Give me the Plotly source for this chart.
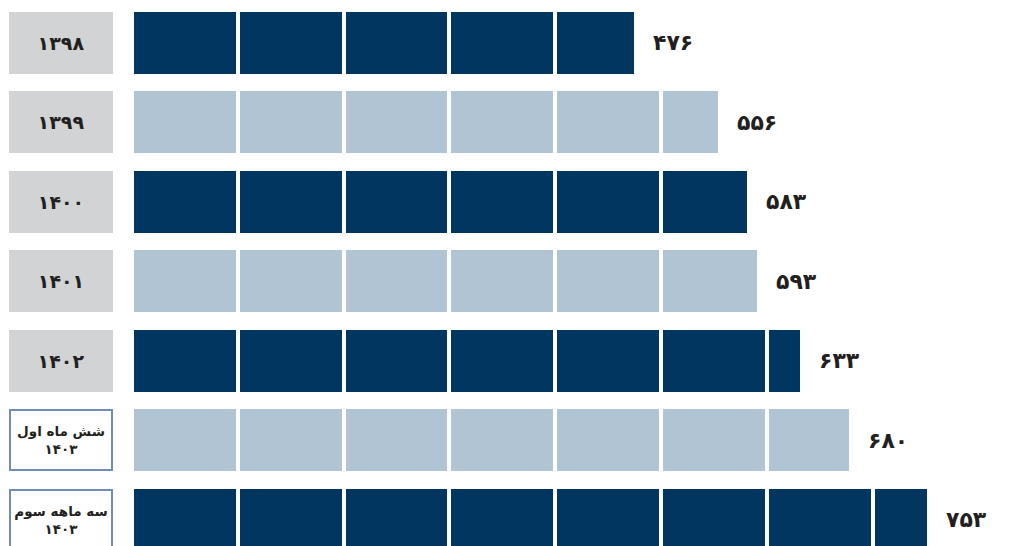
import plotly.graph_objects as go

categories = ["۱۳۹۸", "۱۳۹۹", "۱۴۰۰", "۱۴۰۱", "۱۴۰۲", "شش ماه اول<br>۱۴۰۳", "سه ماهه سوم<br>۱۴۰۳"]
values = [476, 556, 583, 593, 633, 680, 753]
segment_size = 100

DARK = "#00365F"
LIGHT = "#B1C4D3"
GRAY = "#D1D3D4"
BORDER = "#6F8DB8"
TEXT = "#231F20"

def fa_digits(n):
    return str(n).translate(str.maketrans("0123456789", "۰۱۲۳۴۵۶۷۸۹"))

rows = list(range(len(values)))
bar_colors = [DARK if i % 2 == 0 else LIGHT for i in rows]
n_seg = max(values) // segment_size + 1

fig = go.Figure()
for k in range(n_seg):
    seg = []
    for v in values:
        rem = v - k * segment_size
        seg.append(min(segment_size, rem) if rem > 0 else None)
    fig.add_trace(go.Bar(
        y=rows, x=seg, orientation="h", width=0.83,
        marker=dict(color=bar_colors, line=dict(color="white", width=4)),
        hoverinfo="skip", showlegend=False,
    ))

for i, v in enumerate(values):
    fig.add_annotation(x=v, y=i, xref="x", yref="y", text="<b>" + fa_digits(v) + "</b>",
                       showarrow=False, xanchor="left", xshift=15,
                       font=dict(family="DejaVu Sans", size=22, color=TEXT))

for i, c in enumerate(categories):
    boxed = i >= 5
    fig.add_annotation(
        x=0.0524, y=i, xref="paper", yref="y", text="<b>" + c.replace("<br>", "</b><br><b>") + "</b>",
        showarrow=False, xanchor="center", yanchor="middle",
        width=100 if boxed else 104, height=58 if boxed else 62,
        bgcolor="white" if boxed else GRAY,
        bordercolor=BORDER if boxed else GRAY, borderwidth=2 if boxed else 0, borderpad=0,
        font=dict(family="DejaVu Sans", size=13.5 if boxed else 19, color=TEXT),
        align="center",
    )

fig.update_layout(
    barmode="stack", bargap=0,
    width=1011, height=546,
    margin=dict(l=0, r=0, t=0, b=0),
    paper_bgcolor="white", plot_bgcolor="white",
    xaxis=dict(range=[-117.2, 838.4], visible=False),
    yaxis=dict(range=[6.428, -0.440], visible=False),
)

fig.write_html("out.html")
